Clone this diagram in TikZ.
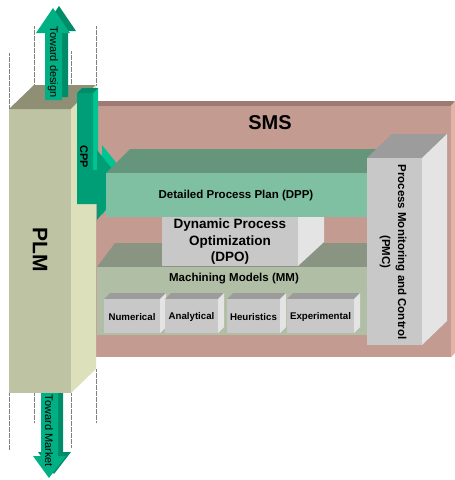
\documentclass[tikz,border=0pt]{standalone}
\usepackage{fontspec}
\setsansfont{Liberation Sans}
\definecolor{plmfront}{RGB}{190,195,164}
\definecolor{plmtop}{RGB}{142,143,116}
\definecolor{plmside}{RGB}{220,224,187}
\definecolor{arrgreen}{RGB}{0,176,132}
\definecolor{arrdark}{RGB}{0,140,104}
\definecolor{arrlight}{RGB}{0,196,146}
\definecolor{smsfront}{RGB}{195,155,144}
\definecolor{smstop}{RGB}{158,122,114}
\definecolor{smsside}{RGB}{226,179,167}
\definecolor{dppfront}{RGB}{126,192,161}
\definecolor{dpptop}{RGB}{101,150,124}
\definecolor{mmfront}{RGB}{177,190,166}
\definecolor{mmtop}{RGB}{138,148,131}
\definecolor{boxfront}{RGB}{200,200,200}
\definecolor{boxtop}{RGB}{156,156,156}
\definecolor{boxside}{RGB}{228,228,228}
\begin{document}
\begin{tikzpicture}[x=1pt,y=-1pt,
		guide/.style={gray,densely dotted,very thin},
		lbl/.style={font=\sffamily\bfseries}]
		\useasboundingbox (0,0) rectangle (455,480);
		% dotted guides
		\draw [guide] (9,53) -- (9,109);
		\draw [guide] (34,26) -- (34,85);
		\draw [guide] (71,51) -- (71,109);
		\draw [guide] (96,26) -- (96,85);
		\draw [guide] (9,393) -- (9,450);
		\draw [guide] (34,393) -- (34,423);
		\draw [guide] (71,393) -- (71,448);
		\draw [guide] (96,369) -- (96,423);
		% toward market
		\fill [arrdark] (46,389) -- (63,389) -- (63,452) -- (71,452) -- (54,474) -- (38,452) -- (46,452) -- cycle;
		\fill [arrgreen] (41,393) -- (58,393) -- (58,456) -- (66,456) -- (49,478) -- (33,456) -- (41,456) -- cycle;
		\node [rotate=-90,font=\sffamily\fontsize{11}{13}\selectfont] (market) at (49,431) {Toward Market};
		% SMS slab
		\fill [smstop] (88,106) -- (92,101) -- (455,101) -- (451,106) -- cycle;
		\fill [smsside] (451,106) -- (455,101) -- (455,353) -- (451,357) -- cycle;
		\fill [smsfront] (88,106) rectangle (451,357);
		\node [lbl,font=\sffamily\bfseries\fontsize{20}{24}\selectfont] (sms) at (270,123) {SMS};
		% PLM block
		\fill [plmfront] (9,109) rectangle (71,393);
		\fill [plmtop] (9,109) -- (34,85) -- (96,85) -- (71,109) -- cycle;
		\fill [plmside] (71,109) -- (96,85) -- (96,369) -- (71,393) -- cycle;
		\node [rotate=-90,font=\sffamily\bfseries\fontsize{21}{25}\selectfont] (plm) at (40,250) {PLM};
		% toward design
		\fill [arrdark] (51,97) -- (68,97) -- (68,31) -- (76,31) -- (59,6) -- (42,31) -- (51,31) -- cycle;
		\fill [arrgreen] (45,100) -- (62,100) -- (62,33) -- (70,33) -- (53,8) -- (36,33) -- (45,33) -- cycle;
		\node [rotate=-90,font=\sffamily\fontsize{11}{13}\selectfont] (design) at (53,62) {Toward design};
		% CPP
		\fill [arrlight] (82,88) -- (98,88) -- (98,165) -- (102,165) -- (102,145) -- (130,180) -- (102,215) -- (102,199) -- (82,199) -- cycle;
		\fill [arrdark] (77,93) -- (82,88) -- (98,88) -- (93,93) -- cycle;
		\fill [arrgreen!90!black] (77,93) -- (93,93) -- (93,170) -- (97,170) -- (97,150) -- (125,185) -- (97,220) -- (97,204) -- (77,204) -- cycle;
		\node [rotate=-90,font=\sffamily\bfseries\fontsize{11}{13}\selectfont] (cpp) at (84,157) {CPP};
		% machining models
		\fill [mmtop] (97,267) -- (115,243) -- (385,243) -- (367,267) -- cycle;
		\fill [mmfront] (97,267) rectangle (367,335);
		\node [font=\sffamily\bfseries\fontsize{11.5}{13}\selectfont] (mm) at (234,279) {Machining Models (MM)};
		\foreach \xa/\xb/\name in {104/160/Numerical,165/218/Analytical,227/280/Heuristics,287/354/Experimental}{
			\fill [boxtop] (\xa,299) -- (\xa+6,293) -- (\xb+6,293) -- (\xb,299) -- cycle;
			\fill [boxside] (\xb,299) -- (\xb+6,293) -- (\xb+6,327) -- (\xb,333) -- cycle;
			\fill [boxfront] (\xa,299) rectangle (\xb,333);
			\node [font=\sffamily\bfseries\fontsize{9.7}{11}\selectfont] (\name) at ({(\xa+\xb)/2},317) {\name};
		}
		% DPO
		\fill [boxside] (298,210) -- (324,186) -- (324,242) -- (298,266) -- cycle;
		\fill [boxfront] (162,210) rectangle (298,266);
		\node [align=center,font=\sffamily\bfseries\fontsize{13.5}{16.5}\selectfont] (dpo) at (230,242) {Dynamic Process\\Optimization\\(DPO)};
		% DPP
		\fill [dpptop] (106,173) -- (130,149) -- (391,149) -- (367,173) -- cycle;
		\fill [dppfront] (106,173) rectangle (367,217);
		\node [font=\sffamily\bfseries\fontsize{11.5}{13}\selectfont] (dpp) at (236,196) {Detailed Process Plan (DPP)};
		% PMC
		\fill [boxtop] (367,158) -- (392,134) -- (447,134) -- (422,158) -- cycle;
		\fill [boxside] (422,158) -- (447,134) -- (447,321) -- (422,345) -- cycle;
		\fill [boxfront] (367,158) rectangle (422,345);
		\node [rotate=-90,align=center,font=\sffamily\bfseries\fontsize{11.5}{16}\selectfont] (pmc) at (393,252) {Process Monitoring and Control\\(PMC)};
		\end{tikzpicture}
\end{document}
